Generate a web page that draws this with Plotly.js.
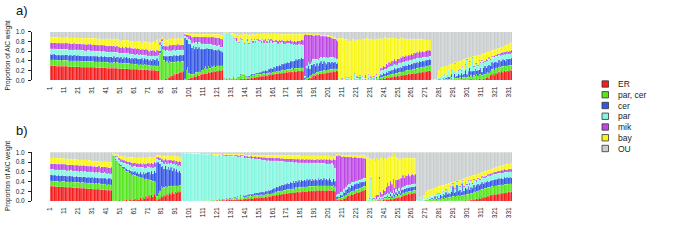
<!DOCTYPE html>
<html>
<head>
<meta charset="utf-8">
<script src="https://cdn.plot.ly/plotly-3.0.1.min.js"></script>
<style>html,body{margin:0;padding:0;background:#fff;}#chart{width:683px;height:241px;}</style>
</head>
<body>
<div id="chart"></div>
<script>
// ---- categories / labels ----
const seriesNames = ['ER', 'par, cer', 'cer', 'par', 'mik', 'bay', 'OU'];
const seriesColors = ['#F41E1E', '#55E41E', '#3456E6', '#84F6E0', '#BE48E6', '#F8F616', '#C9CDCD'];
const xTickLabels = ['1','11','21','31','41','51','61','71','81','91','101','111','121','131','141','151','161','171','181','191','201','211','221','231','241','251','261','271','281','291','301','311','321','331'];
const yTickLabels = ['0.0','0.2','0.4','0.6','0.8','1.0'];
const panelTitles = ['a)', 'b)'];
const yTitle = 'Proportion of AIC weight';
const nBars = 333;

// ---- panel a (percent of AIC weight per model) ----
const aER = [30,30,30,30,30,29,29,29,29,29, 29,29,29,28,28,28,28,28,28,28, 28,28,27,27,27,27,27,27,27,27, 27,27,27,26,26,26,26,26,26,26, 26,25,25,25,25,25,25,25,25,24, 24,24,24,24,24,24,24,23,23,23, 23,23,23,23,22,22,22,22,22,22, 22,21,21,21,21,21,20,20,20,
 1,0,2,1,3,2,6,5,9,8,12,10,14,13,16,18,17,19,
 0,1,2,3,4,6,5,8,7,10,9,12,11,14,13,15,14,17,16,18,17,19,18,20,19,21,20,22,
 1,1,2,1,1,2,1,2,
 1,2,1,2,2,3,2,3,2,3,4,3,5,4,6,5,7,
 6,8,7,9,8,10,9,11,10,12,11,13,12,14,13,15,14,16,15,16,17,16,18,17,18,17,19,18,19,20,19,20,19,
 2,1,2,3,5,4,8,10,9,12,11,14,13,15,14,16,15,17,16,18,17,19,18,20,19,
 1,0,1,1,0,1,1,0,1,1,0,1,1,0,1,1,0,1,1,0,1,1,0,1,1,1,0,1,1,2,
 3,2,4,3,5,4,6,5,7,6,8,7,9,8,10,9,11,10,12,11,13,12,14,13,15,14,16,15,17,16,18,17,19,18,20,20,19,
 0,0,0,0,0,0,
 0,1,0,1,0,1,0,1,1,0,1,1,0,1,1,0,1,2,1,1,2,1,3,1,2,1,2,1,3,2,1,3,2,5,8,4,10,12,15,10,16,14,18,16,19,17,20,18,20,19,21,20];
const aParCer = [12,12,12,12,11,12,12,12,11,12, 12,12,12,12,12,12,12,12,12,12, 12,12,12,12,12,12,12,12,12,12, 12,12,11,12,12,12,12,11,12,12, 11,12,12,11,12,11,12,11,12,12, 11,12,11,11,12,11,11,12,11,11, 11,10,11,11,10,11,10,10,11,10, 10,10,9,10,9,10,9,10,10,
 55,70,62,40,35,38,30,34,28,30,25,28,24,26,22,20,22,20,
 3,20,25,12,8,6,8,6,10,7,9,6,10,8,12,14,10,12,9,12,10,11,9,10,11,9,10,8,
 2,1,2,3,2,1,3,6,
 3,2,4,3,8,10,6,9,4,5,3,6,4,7,5,8,5,
 6,4,6,5,7,4,6,5,7,4,6,5,6,5,7,4,6,5,7,5,6,7,5,6,7,5,6,7,6,5,7,6,7,
 1,2,3,2,4,6,5,4,6,5,7,5,6,5,7,4,6,5,7,5,6,5,6,4,5,
 1,1,2,1,1,2,1,2,1,3,1,2,1,2,1,4,1,2,1,3,1,2,1,3,1,2,1,4,2,3,
 3,5,4,6,4,6,5,7,5,8,6,8,6,9,7,9,7,10,8,10,8,10,8,10,9,10,9,11,9,11,10,11,10,11,10,11,12,
 0,0,1,0,1,1,
 2,1,3,2,2,4,2,3,5,2,4,3,4,3,6,3,5,4,6,5,7,5,8,6,8,7,10,8,9,10,9,11,10,11,10,12,10,11,10,12,10,12,10,11,10,12,10,11,10,12,10,11];
const aCer = [12,11,12,12,12,11,12,11,12,12, 11,12,12,11,12,12,11,13,12,11, 12,11,12,12,11,12,10,12,11,12, 11,12,11,11,12,10,11,12,10,12, 11,11,10,12,11,10,12,10,11,12, 10,12,9,12,10,13,10,11,9,12, 10,13,11,9,12,10,13,9,12,11, 12,10,13,9,14,11,12,15,10,
 5,3,6,10,12,10,14,12,14,12,15,13,14,12,14,15,13,14,
 85,62,55,60,62,55,58,50,52,48,50,46,44,42,40,36,42,36,40,34,38,32,36,32,34,32,30,28,
 1,0,1,0,1,0,1,1,
 1,0,1,1,2,1,2,1,2,1,2,1,3,2,3,2,4,
 3,5,4,6,4,7,5,8,6,9,7,10,8,11,9,12,10,13,11,14,12,15,13,16,14,17,15,18,16,19,17,20,18,
 2,3,20,25,15,22,18,20,14,18,12,16,20,14,18,16,12,16,14,12,15,12,14,10,12,
 0,0,1,0,0,0,1,0,0,1,0,0,0,1,0,2,0,0,1,0,0,1,0,2,0,1,0,2,0,3,
 6,4,7,5,8,6,9,7,10,8,11,8,10,9,11,8,12,9,11,9,12,10,12,10,12,11,12,10,13,11,12,11,12,12,12,12,11,
 0,0,0,0,0,1,
 1,0,2,0,3,1,5,2,6,1,8,2,5,10,3,12,4,8,14,6,10,20,8,12,10,16,8,12,10,14,8,12,18,10,12,16,10,14,10,15,12,10,14,12,10,14,12,10,14,12,13,14];
const aPar = [11,12,11,11,12,12,11,12,12,11, 12,11,11,12,11,11,12,10,11,12, 11,12,11,11,12,10,12,11,12,10, 11,10,12,11,10,12,11,10,12,10, 11,10,12,10,11,12,9,12,10,9, 11,8,12,9,11,8,12,9,12,8, 10,7,9,12,8,11,7,11,8,10, 7,10,6,11,7,9,10,6,12,
 12,8,10,12,10,12,10,12,10,12,11,10,10,12,10,9,11,10,
 4,6,8,10,8,10,8,12,9,10,10,12,10,11,10,9,8,10,9,10,8,10,9,9,8,10,8,10,
 93,96,93,94,90,92,88,82,
 80,76,84,70,74,68,72,62,76,72,66,74,70,64,68,62,66,
 66,64,60,62,58,60,56,58,54,56,52,50,52,48,46,48,46,44,42,40,42,38,40,36,36,34,34,30,32,30,30,28,28,
 3,2,5,8,10,6,12,10,14,8,12,10,8,12,8,10,14,8,10,12,9,11,8,10,8,
 2,1,2,3,1,2,1,3,1,2,1,10,2,1,3,2,1,4,1,2,1,6,2,1,3,2,1,3,2,4,
 8,10,6,9,7,10,8,11,7,10,8,9,7,10,8,10,7,9,8,10,7,9,8,9,7,9,8,9,7,8,7,8,6,7,6,6,7,
 1,0,1,0,2,3,
 4,8,3,12,4,6,14,5,8,20,6,28,8,6,12,5,18,7,10,30,8,12,10,26,8,10,14,8,18,10,22,10,8,14,10,12,12,10,12,10,12,14,10,12,14,10,12,14,11,12,11,12];
const aMik = [12,12,12,12,12,12,13,12,12,12, 12,12,13,12,13,12,12,13,12,12, 12,12,13,12,12,13,12,12,12,13, 12,13,12,13,12,12,13,13,12,12, 12,13,11,13,12,12,13,11,13,12, 12,11,13,10,12,12,10,13,11,12, 11,13,10,11,13,9,12,12,10,11, 12,9,13,10,11,10,8,12,9,
 5,3,4,8,10,8,10,9,11,10,10,12,10,11,10,11,10,10,
 3,5,4,8,10,12,11,14,12,15,12,14,14,15,14,16,15,14,15,16,16,17,16,17,16,16,18,16,
 0,0,0,0,1,0,1,1,
 2,8,1,2,1,2,1,2,1,3,2,1,2,4,2,3,2,
 3,2,4,2,5,3,4,3,5,4,6,3,5,4,6,3,5,4,6,5,4,6,5,7,5,6,7,6,8,7,8,9,10,
 85,88,64,56,60,56,50,48,50,50,52,48,44,46,44,45,44,44,43,42,40,38,40,38,36,
 1,0,1,0,0,1,0,1,0,1,0,2,0,4,1,2,0,1,0,5,0,2,0,1,0,3,0,2,0,2,
 6,4,8,5,10,6,9,5,11,7,10,8,12,8,11,9,12,10,13,10,12,11,13,11,14,12,13,12,14,12,13,12,14,13,14,13,12,
 0,0,0,0,0,0,
 0,0,0,1,0,0,1,0,1,1,1,2,1,1,1,2,1,1,2,2,1,2,1,2,2,1,2,2,1,2,2,2,2,3,2,3,2,3,2,4,3,4,3,5,4,5,4,6,5,4,6,5];
const aBay = [12,12,12,12,12,13,12,12,13,12, 12,13,12,13,12,13,13,12,13,13, 13,12,13,13,13,13,14,13,13,13, 14,13,14,14,14,14,13,14,14,14, 14,14,15,14,14,15,14,15,14,15, 15,14,13,16,14,15,15,13,15,14, 15,13,17,14,15,17,13,16,17,14, 15,18,14,18,16,19,15,20,16,
 8,6,6,12,14,12,15,13,14,16,12,15,13,14,14,12,14,12,
 2,3,3,3,4,6,5,5,5,5,6,5,6,5,6,5,6,6,6,5,6,6,7,7,7,7,8,9,
 0,0,1,0,2,1,3,5,
 8,6,5,16,8,10,12,18,10,11,16,9,12,14,10,15,11,
 12,13,15,12,14,12,16,11,14,11,14,15,13,14,15,13,14,13,14,15,14,13,14,13,15,16,14,16,14,14,14,12,13,
 2,1,2,2,2,2,3,2,3,2,2,3,3,2,3,2,2,3,2,3,4,3,3,4,5,
 82,85,80,82,83,78,80,74,82,70,84,65,80,74,78,72,83,76,82,74,85,72,82,76,80,74,84,72,80,74,
 62,60,58,62,52,56,50,52,48,46,44,48,42,40,42,40,38,36,36,34,34,32,30,32,28,30,26,28,24,26,24,24,22,22,21,21,22,
 1,0,0,1,8,16,
 19,17,19,13,21,18,10,22,13,10,16,2,20,18,17,18,13,21,11,1,18,6,18,2,19,15,15,21,12,15,13,18,16,15,17,12,17,12,14,12,12,12,11,12,12,11,13,13,13,15,16,17];
const aOU = [11,11,11,11,11,11,11,12,11,12, 12,11,11,12,12,12,12,12,12,12, 12,13,12,13,13,13,13,13,13,13, 13,13,13,13,14,14,14,14,14,14, 15,15,15,15,15,15,15,16,15,16, 17,19,18,18,17,17,18,19,19,20, 20,21,19,20,20,20,23,20,20,22, 22,22,24,21,22,20,26,17,23,
 14,10,10,17,16,18,15,15,14,12,15,12,15,12,14,15,13,15,
 3,3,3,4,4,5,5,5,5,5,4,5,5,5,5,5,5,5,5,5,5,5,5,5,5,5,6,7,
 3,2,1,2,3,4,3,3,
 5,6,4,6,5,6,5,5,5,5,7,6,4,5,6,5,5,
 4,4,4,4,4,4,4,4,4,4,4,4,4,4,4,5,5,5,5,5,5,5,5,5,5,5,5,5,5,5,5,5,5,
 5,3,4,4,4,4,4,6,4,5,4,4,6,6,6,7,7,7,8,8,9,12,11,14,15,
 13,13,13,13,15,16,16,20,15,22,14,20,16,18,16,17,15,16,15,16,12,16,15,16,15,17,14,16,15,12,
 12,15,13,10,14,12,13,13,12,15,13,12,14,16,11,15,13,16,12,16,14,16,15,15,15,14,16,15,16,16,16,17,17,17,17,17,17,
 98,100,98,99,89,79,
 74,73,73,71,70,70,68,67,66,66,64,62,62,61,60,60,58,57,56,55,54,54,52,51,51,50,49,48,47,47,45,44,44,42,41,41,39,38,37,37,35,34,34,32,31,31,29,28,27,26,23,21];

// ---- panel b ----
const bER = [30,30,30,30,29,29,29,29,29,29, 29,28,28,28,28,28,27,27,27,27, 27,26,26,26,26,26,25,25,25,25, 25,24,24,24,24,24,23,23,23,23,23,22,22,22,22,
 0,1,0,1,0,2,1,0,2,1,3,1,2,4,2,3,5,2,6,3,7,4,8,5,10,6,12,8,13,9,14,10,
 2,4,6,10,8,12,10,14,12,16,14,18,15,19,17,20,18,20,
 0,0,0,0,0,0,0,0,0,0,1,0,0,1,0,0,1,0,1,0,
 1,1,0,1,1,2,1,2,1,2,2,1,3,2,3,2,3,2,3,2,4,3,4,3,5,
 4,5,4,6,5,6,5,7,6,7,6,8,7,8,7,9,8,10,9,10,
 11,12,11,13,12,14,13,15,14,15,16,15,17,16,17,18,17,18,19,18,19,18,20,19,20,19,21,20,21,20,21,20,22,21,22,21,22,21,22,21,22,21,22,21,22,20,
 2,3,2,4,3,6,5,8,10,12,11,14,13,15,16,18,17,19,20,21,22,23,
 1,0,1,0,1,1,0,1,2,1,2,1,3,2,3,4,3,5,4,6,5,7,6,8,7,9,12,11,14,13,15,14,16,15,17,16,
 0,0,0,0,0,0,0,
 0,0,0,0,0,0,1,0,0,1,0,1,0,1,0,1,1,0,1,1,1,0,1,1,1,0,1,1,2,1,2,1,3,2,4,3,5,4,6,5,8,6,9,8,11,10,12,13,12,14,13,15,14,16,15,17,16,18,17,19,18,19];
const bParCer = [12,12,12,11,12,12,12,11,12,12, 12,12,11,12,12,12,12,11,12,12, 12,12,11,12,12,11,12,12,11,12, 11,12,11,12,11,12,11,12,11,12,11,11,12,11,11,
 96,90,84,80,76,72,70,68,64,63,58,60,55,54,52,52,48,50,45,47,42,44,40,41,36,39,32,35,30,32,28,30,
 8,12,15,20,18,16,20,15,18,14,17,12,16,12,14,11,14,12,
 0,0,0,1,0,0,0,1,0,0,0,1,0,0,1,0,1,0,1,1,
 1,2,1,2,1,2,1,3,2,1,3,2,2,4,2,3,5,2,4,3,5,3,6,3,4,
 5,4,6,5,7,4,6,5,7,5,6,5,7,5,6,5,7,5,6,5,
 6,5,7,6,8,6,8,6,8,7,8,9,7,9,8,9,8,10,8,10,9,10,9,10,9,10,9,10,9,10,9,10,9,10,9,10,9,10,9,10,9,10,9,9,10,9,
 3,2,4,3,5,4,6,5,6,5,7,6,8,6,8,6,8,7,8,7,8,7,
 1,2,1,1,2,1,3,1,2,3,2,3,2,4,3,4,3,5,3,5,4,5,4,6,5,6,5,6,5,6,5,6,5,6,5,6,
 0,0,1,0,0,1,1,
 2,3,2,3,4,3,4,3,5,4,5,6,5,7,6,8,7,9,8,9,10,9,10,11,10,12,11,12,11,13,12,14,13,14,15,16,15,17,16,18,16,18,17,18,17,18,17,17,18,17,18,17,18,17,18,16,18,16,17,16,17,16];
const bCer = [12,12,11,12,12,11,12,12,11,12, 11,12,12,11,12,11,12,12,11,12, 11,12,13,11,12,13,11,12,13,11, 13,11,14,12,13,11,14,12,13,12,14,12,13,14,12,
 0,1,2,1,3,2,3,2,4,3,5,3,6,4,7,4,8,5,9,6,10,7,11,9,12,14,16,12,18,15,20,18,
 70,64,55,40,46,38,42,36,40,34,38,32,36,30,34,28,30,26,
 0,0,0,0,0,0,0,0,0,0,0,0,0,0,0,0,0,0,0,0,
 0,0,0,0,0,0,0,0,0,1,0,0,1,0,1,1,1,0,2,1,2,1,2,1,3,
 2,3,2,3,2,4,3,4,3,5,4,5,4,6,5,6,5,7,6,8,
 7,9,8,10,8,11,9,12,10,12,10,13,11,14,12,15,12,14,12,15,12,16,13,15,12,16,13,15,12,16,13,15,12,16,13,15,12,16,13,15,12,16,13,10,14,12,
 3,5,3,6,4,8,6,10,8,12,9,12,10,13,10,12,10,12,10,12,10,11,
 0,1,0,0,1,0,1,0,1,2,1,2,1,3,2,4,3,5,3,6,4,6,5,7,5,7,6,8,6,8,7,8,7,8,7,8,
 0,0,0,0,0,0,1,
 1,0,2,1,3,1,5,2,6,2,8,3,10,4,12,5,8,6,10,20,6,10,22,8,12,6,24,8,14,10,16,8,12,10,14,10,12,14,10,12,14,11,13,12,14,12,13,13,14,12,14,13,15,13,14,13,15,13,14,13,14,13];
const bPar = [11,11,12,11,11,12,11,11,12,11, 12,11,11,12,10,12,11,11,12,10, 12,10,11,12,10,11,12,10,11,12, 10,12,9,11,10,12,9,11,10,12,9,11,10,9,11,
 1,2,5,8,6,9,7,10,8,11,9,12,10,12,9,13,10,12,10,13,10,14,11,13,10,12,9,13,9,12,8,11,
 6,5,8,10,9,11,8,12,9,12,9,13,10,12,10,13,11,13,
 99,99,98,98,99,98,99,97,98,98,97,97,97,96,96,96,95,96,94,95,
 94,92,94,91,92,90,92,88,91,90,88,90,86,87,86,87,83,88,83,86,80,84,79,85,80,
 78,77,76,74,74,73,74,71,71,70,70,68,67,66,66,64,63,62,62,60,
 59,57,57,54,55,51,52,49,50,47,47,44,45,42,43,39,42,38,40,36,39,35,37,35,38,34,36,34,37,33,35,34,36,32,34,32,35,31,33,31,33,30,31,38,28,26,
 5,4,6,5,7,6,8,6,8,6,8,7,8,6,8,6,8,6,7,6,7,6,
 2,3,2,45,3,2,4,2,3,40,4,3,5,4,6,5,6,4,6,5,4,6,5,6,4,5,6,5,6,5,6,5,6,5,6,5,
 2,6,4,7,2,3,2,
 3,5,2,8,3,6,2,10,4,8,3,12,4,6,5,10,4,14,5,5,8,6,6,10,6,14,5,8,10,8,12,10,14,8,10,12,8,10,12,8,10,12,9,11,9,12,10,11,12,11,10,12,10,12,10,12,10,12,10,12,11,12];
const bMik = [11,12,11,12,12,11,12,12,11,12, 11,12,12,11,12,11,12,12,11,12, 11,12,12,11,13,11,12,12,11,12, 12,11,13,11,12,13,11,12,13,11,12,13,11,12,13,
 0,1,2,2,4,3,5,4,6,5,7,5,8,6,9,6,8,7,9,7,9,6,8,7,9,7,9,8,9,8,10,9,
 4,5,5,6,5,7,6,7,6,8,7,8,7,9,8,9,9,10,
 0,0,0,0,0,0,0,0,0,0,0,0,0,0,0,0,0,1,0,0,
 0,1,0,1,1,0,1,1,0,2,1,2,3,1,2,1,2,1,3,2,3,2,3,2,2,
 4,3,4,3,4,5,3,4,5,3,5,4,5,4,6,5,6,5,6,6,
 6,5,6,5,6,6,5,6,5,6,6,6,7,6,7,6,7,6,7,7,6,7,7,6,7,7,6,7,6,7,7,6,7,7,7,8,7,8,8,9,9,9,10,6,12,18,
 80,78,79,74,72,68,66,62,58,56,55,52,50,50,48,47,46,45,44,42,41,40,
 1,0,2,1,0,3,2,8,5,4,10,6,12,8,14,20,16,22,18,24,10,20,24,18,26,20,24,18,22,20,22,18,20,22,18,20,
 0,0,0,0,0,0,0,
 0,0,0,0,1,0,1,0,1,1,1,1,1,1,2,1,1,2,1,2,1,2,2,1,2,2,2,2,2,3,2,3,2,3,3,2,3,3,2,3,3,2,3,3,4,3,4,3,4,4,5,4,5,4,6,5,6,5,6,5,6,5];
const bBay = [13,12,13,13,12,13,12,13,13,12, 13,12,13,13,13,12,13,13,13,13, 12,13,12,13,12,13,13,12,13,12, 12,13,11,13,12,11,13,12,11,13,12,11,13,12,11,
 1,2,3,4,5,5,6,8,7,8,9,10,9,10,11,12,10,13,11,13,12,14,12,14,12,12,12,13,11,13,11,12,
 4,4,5,7,7,8,7,8,8,8,8,9,8,9,9,10,9,10,
 0,0,0,0,0,0,0,0,0,0,0,0,1,0,0,1,0,0,1,1,
 1,1,1,1,1,2,1,2,2,1,2,1,1,2,2,2,2,3,1,2,2,3,2,2,2,
 2,3,3,4,3,3,4,3,2,4,3,4,4,5,4,5,5,5,5,5,
 5,6,5,6,5,6,7,6,7,7,7,7,7,7,7,7,8,8,8,8,8,7,7,8,7,7,8,7,8,7,8,8,7,7,8,7,8,7,8,7,8,7,8,7,7,7,
 3,3,2,3,4,3,4,4,5,4,5,4,6,5,5,6,6,6,6,7,7,8,
 86,84,82,40,78,80,70,76,72,36,70,74,60,68,58,52,60,48,58,44,70,46,44,42,40,42,36,40,35,36,34,37,34,32,35,33,
 0,1,0,2,3,8,14,
 15,14,17,12,14,16,14,13,13,14,14,9,12,14,9,10,15,6,13,2,14,14,1,12,13,11,3,16,9,14,6,15,8,16,7,11,12,8,11,12,8,11,10,10,8,9,9,9,9,9,9,9,9,9,9,10,9,11,11,11,11,13];
const bOU = [11,11,11,11,12,12,12,12,12,12, 12,13,13,13,13,14,13,14,14,14, 15,15,15,15,15,15,15,17,16,16, 17,17,18,17,18,17,19,18,19,17,19,20,19,20,20,
 2,3,4,4,6,7,8,8,9,9,9,9,10,10,10,10,11,11,10,11,10,11,10,11,11,10,10,11,10,11,9,10,
 6,6,6,7,7,8,7,8,7,8,7,8,8,9,8,9,9,9,
 1,1,2,1,1,2,1,2,2,2,2,2,2,3,3,3,3,3,3,3,
 3,3,4,4,4,4,4,4,4,3,4,4,4,4,4,4,4,4,4,4,4,4,4,4,4,
 5,5,5,5,5,5,5,6,6,6,6,6,6,6,6,6,6,6,6,6,
 6,6,6,6,6,6,6,6,6,6,6,6,6,6,6,6,6,6,6,6,7,7,7,7,7,7,7,7,7,7,7,7,7,7,7,7,7,7,7,7,7,7,7,9,7,8,
 4,5,4,5,5,5,5,5,5,5,5,5,5,5,5,5,5,5,5,5,5,5,
 9,10,12,13,15,13,20,12,15,14,11,11,17,11,14,11,9,11,8,10,3,10,12,13,13,11,11,12,12,12,11,12,12,12,12,12,
 98,93,95,91,95,88,82,
 79,78,77,76,75,74,73,72,71,70,69,68,68,67,66,65,64,63,62,61,60,59,58,57,56,55,54,53,52,51,50,49,48,47,47,46,45,44,43,42,41,40,39,38,37,36,35,34,33,32,31,30,29,29,28,27,26,25,24,24,23,22];

const panelA = [aER, aParCer, aCer, aPar, aMik, aBay, aOU];
const panelB = [bER, bParCer, bCer, bPar, bMik, bBay, bOU];

// sanity check of array lengths
[['a', panelA], ['b', panelB]].forEach(([p, arrs]) => {
  arrs.forEach((arr, k) => {
    if (arr.length !== nBars) throw new Error('panel ' + p + ' series ' + seriesNames[k] + ' has ' + arr.length + ' values');
  });
});

const xPos = Array.from({length: nBars}, (_, i) => i + 1);
const FONT = 'Liberation Sans, Arial, Helvetica, sans-serif';

const traces = [];
[panelA, panelB].forEach((arrs, p) => {
  arrs.forEach((vals, k) => {
    traces.push({
      type: 'bar',
      x: xPos,
      y: vals,
      name: seriesNames[k],
      xaxis: p === 0 ? 'x' : 'x2',
      yaxis: p === 0 ? 'y' : 'y2',
      marker: {color: seriesColors[k], line: {color: 'rgba(255,255,255,0.8)', width: 0.18}},
      showlegend: false,
      hoverinfo: 'skip'
    });
  });
});

const W = 683, H = 241;
const px = v => v / W;
const py = v => 1 - v / H;

function xAxis(anchor) {
  return {
    domain: [px(32), px(512)],
    range: [-12.1, 333.5],
    anchor: anchor,
    tickmode: 'array',
    tickvals: xTickLabels.map(Number),
    ticktext: xTickLabels,
    tickangle: -90,
    ticks: '',
    ticklabelstandoff: 4,
    tickfont: {family: FONT, size: 6.5, color: '#222'},
    showline: false, showgrid: false, zeroline: false,
    fixedrange: true
  };
}
function yAxis(anchor, top, bottom) {
  return {
    domain: [py(bottom), py(top)],
    range: [0, 1],
    anchor: anchor,
    tickmode: 'array',
    tickvals: yTickLabels.map(Number),
    ticktext: yTickLabels,
    ticks: 'outside', ticklen: 3, tickwidth: 1, tickcolor: '#222',
    ticklabelstandoff: 2,
    tickfont: {family: FONT, size: 6.5, color: '#222'},
    showline: true, linecolor: '#222', linewidth: 1,
    showgrid: false, zeroline: false,
    fixedrange: true
  };
}

const annotations = [];
const shapes = [];
// panel letters and y titles
[[11, 56], [130, 176.5]].forEach(([ty, cy], p) => {
  annotations.push({xref: 'paper', yref: 'paper', x: px(14), y: py(ty), xanchor: 'left', yanchor: 'middle',
    text: panelTitles[p], showarrow: false, font: {family: FONT, size: 13, color: '#111'}});
  annotations.push({xref: 'paper', yref: 'paper', x: px(7.5), y: py(cy), xanchor: 'center', yanchor: 'middle',
    text: yTitle, textangle: -90, showarrow: false, font: {family: FONT, size: 6.5, color: '#222'}});
});
// legend
const legTop = 84, legStep = 10.75;
seriesNames.forEach((nm, k) => {
  const cy = legTop + k * legStep;
  shapes.push({type: 'rect', xref: 'paper', yref: 'paper', x0: px(602), x1: px(608.5), y0: py(cy + 3.2), y1: py(cy - 3.2),
    fillcolor: seriesColors[k], line: {color: '#333', width: 0.8}});
  annotations.push({xref: 'paper', yref: 'paper', x: px(616), y: py(cy), xanchor: 'left', yanchor: 'middle',
    text: nm, showarrow: false, font: {family: FONT, size: 8.5, color: '#222'}});
});

const layout = {
  width: W, height: H,
  margin: {l: 0, r: 0, t: 0, b: 0},
  paper_bgcolor: '#fff', plot_bgcolor: '#fff',
  barmode: 'stack', barnorm: 'fraction', bargap: 0,
  showlegend: false,
  xaxis: xAxis('y'), xaxis2: xAxis('y2'),
  yaxis: yAxis('x', 31.7, 80.3), yaxis2: yAxis('x2', 152.3, 201),
  annotations: annotations, shapes: shapes,
  font: {family: FONT}
};

Plotly.newPlot('chart', traces, layout, {staticPlot: true, displayModeBar: false});
</script>
</body>
</html>
